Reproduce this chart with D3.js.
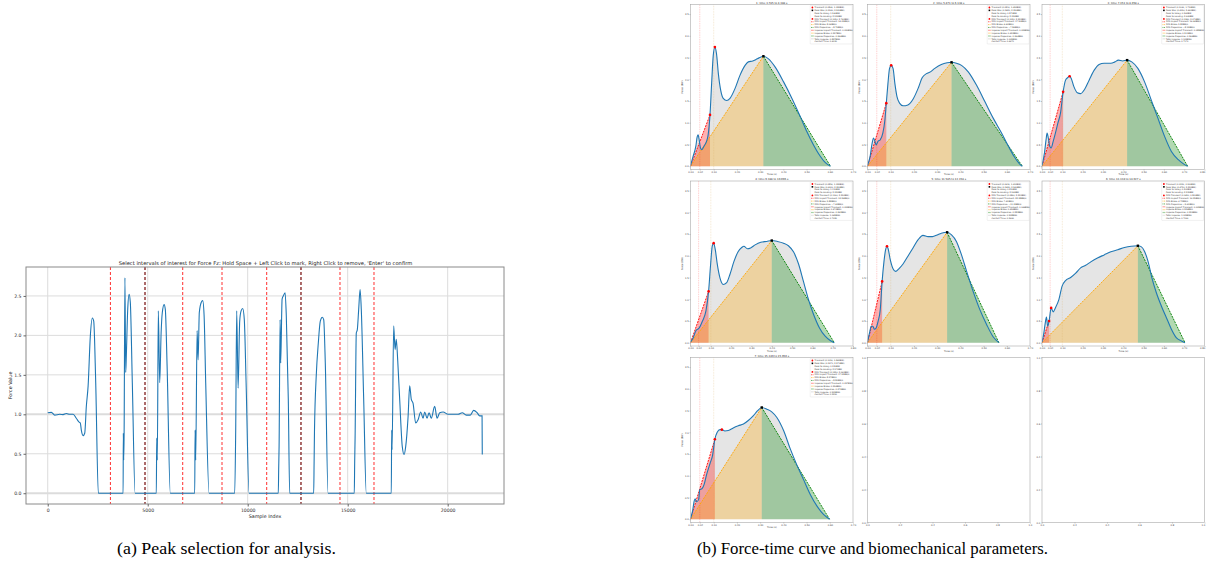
<!DOCTYPE html>
<html>
<head>
<meta charset="utf-8">
<script src="https://d3js.org/d3.v7.min.js"></script>
<style>
  body { margin: 0; background: #fff; }
  svg { display: block; font-family: "DejaVu Sans", sans-serif; }
</style>
</head>
<body>
<svg id="fig" width="1206" height="575"></svg>
<script>
// ---------- (a) raw vertical force signal: [sample index, force] ----------
const forceSignal = [
  [0,1.02],[180,1.025],[350,0.99],[600,1.0],[770,0.996],[930,1.01],[1100,1.0],[1270,1.0],[1430,0.95],
  [1570,0.9],[1630,0.89],[1680,0.8],[1770,0.73],[1850,0.76],[1930,1.1],[2020,1.36],[2130,1.99],
  [2230,2.22],[2300,2.18],[2400,1.4],[2530,0],
  [3770,0],[3780,0.76],[3800,0.42],[3820,0.76],[3860,2.73],[3900,1.53],[3930,1.74],[4000,2.33],
  [4070,2.52],[4130,2.42],[4230,1.4],[4370,0],
  [5430,0],[5450,0.7],[5480,0.42],[5530,2.31],[5600,1.4],[5670,2.03],[5730,2.29],[5820,2.39],
  [5880,2.33],[5970,1.61],[6130,0],
  [7350,0],[7370,0.8],[7400,0.42],[7470,2.06],[7520,1.69],[7580,2.29],[7680,2.42],[7750,2.44],
  [7820,2.25],[7900,1.4],[8070,0],
  [9350,0],[9400,0.8],[9450,2.31],[9520,1.33],[9600,2.18],[9670,2.31],[9750,2.34],[9830,2.2],
  [9920,1.4],[10070,0],
  [11530,0],[11550,0.32],[11570,0.6],[11620,2.2],[11650,1.65],[11720,2.46],[11780,2.5],[11870,2.54],
  [11930,2.25],[12030,1.19],[12100,0],
  [13300,0],[13320,0.38],[13340,0.8],[13430,1.5],[13530,1.9],[13630,2.18],[13730,2.23],[13800,2.2],
  [13880,1.65],[14020,0],
  [15330,0],[15350,0.4],[15370,0.7],[15430,2.03],[15480,2.07],[15550,2.33],[15620,2.58],[15680,2.33],
  [15800,1.19],[15930,0],
  [17180,0],[17200,0.8],[17220,0.55],[17300,2.12],[17370,1.82],[17430,1.95],[17500,1.69],[17600,1.19],
  [17730,0.59],[17820,0.49],[17900,0.59],[18020,0.97],[18100,1.36],[18180,1.19],[18270,1.14],
  [18400,0.89],[18520,0.93],[18650,1.03],[18770,0.95],[18850,1.03],[18970,0.95],[19070,1.02],
  [19180,0.95],[19350,1.1],[19470,0.95],[19600,1.02],[19770,1.03],[20020,1.0],[20270,1.0],
  [20520,1.0],[20730,1.02],[20930,0.99],[21130,0.99],[21300,1.05],[21470,1.02],[21600,0.98],
  [21720,0.98],[21730,0.49]
];
const markIdx = [3135, 4865, 6750, 8715, 10950, 12665, 14615, 16315];
const markIsEnd = [false, true, false, false, false, true, false, false];
const xTicksA = [0, 5000, 10000, 15000, 20000];
const yTicksA = [0, 0.5, 1.0, 1.5, 2.0, 2.5];

// ---------- (b) force-time curves for each selected peak: [time s, force BW] ----------
const curve1 = [[0,0.015],[0.0115,0.23],[0.023,0.46],[0.029,0.68],[0.033,0.72],[0.037,0.62],[0.043,0.42],
  [0.049,0.38],[0.058,0.46],[0.069,0.57],[0.076,0.72],[0.084,1.18],[0.091,1.9],[0.098,2.55],[0.105,2.74],
  [0.112,2.59],[0.12,2.13],[0.13,1.75],[0.141,1.56],[0.156,1.51],[0.17,1.56],[0.192,1.79],[0.213,2.09],
  [0.235,2.32],[0.249,2.4],[0.268,2.42],[0.288,2.47],[0.314,2.53],[0.336,2.47],[0.365,2.28],[0.401,1.94],
  [0.437,1.56],[0.473,1.14],[0.501,0.8],[0.53,0.49],[0.559,0.23],[0.581,0.08],[0.603,0]];
const curve2 = [[0,0.015],[0.0115,0.23],[0.02,0.53],[0.026,0.65],[0.032,0.57],[0.037,0.49],[0.045,0.57],
  [0.055,0.61],[0.066,0.76],[0.075,1.07],[0.081,1.45],[0.088,1.9],[0.095,2.25],[0.102,2.32],[0.11,2.25],
  [0.118,1.9],[0.127,1.6],[0.138,1.45],[0.153,1.39],[0.174,1.41],[0.196,1.54],[0.218,1.79],[0.236,2.04],
  [0.254,2.13],[0.271,2.17],[0.29,2.25],[0.318,2.34],[0.343,2.38],[0.362,2.39],[0.383,2.37],[0.405,2.32],
  [0.434,2.17],[0.47,1.86],[0.506,1.48],[0.542,1.1],[0.578,0.76],[0.607,0.46],[0.631,0.23],[0.654,0.06],
  [0.667,0]];
const curve3 = [[0,0.015],[0.012,0.3],[0.02,0.61],[0.025,0.76],[0.031,0.65],[0.038,0.46],[0.045,0.42],
  [0.055,0.57],[0.066,0.76],[0.078,0.99],[0.091,1.22],[0.104,1.71],[0.116,1.98],[0.127,2.04],[0.136,2.07],
  [0.144,2.02],[0.157,1.83],[0.174,1.69],[0.19,1.67],[0.21,1.77],[0.232,1.98],[0.257,2.21],[0.281,2.34],
  [0.306,2.37],[0.339,2.37],[0.359,2.4],[0.376,2.44],[0.397,2.42],[0.419,2.44],[0.442,2.4],[0.472,2.25],
  [0.505,1.94],[0.538,1.52],[0.571,1.1],[0.604,0.68],[0.637,0.34],[0.671,0.15],[0.695,0.06],[0.717,0]];
const curve4 = [[0,0.015],[0.013,0.11],[0.026,0.27],[0.043,0.34],[0.059,0.5],[0.076,0.73],[0.089,1.18],
  [0.099,1.8],[0.107,2.22],[0.114,2.29],[0.122,2.14],[0.132,1.8],[0.145,1.49],[0.161,1.34],[0.178,1.38],
  [0.194,1.57],[0.214,1.87],[0.235,2.1],[0.252,2.19],[0.263,2.22],[0.28,2.16],[0.296,2.18],[0.318,2.25],
  [0.346,2.31],[0.375,2.33],[0.4,2.35],[0.428,2.33],[0.458,2.29],[0.482,2.23],[0.507,2.09],[0.532,1.81],
  [0.556,1.41],[0.581,0.99],[0.606,0.65],[0.635,0.34],[0.663,0.15],[0.688,0.05],[0.708,0]];
const curve5 = [[0,0.015],[0.009,0.23],[0.016,0.38],[0.023,0.38],[0.03,0.31],[0.037,0.34],[0.046,0.5],
  [0.055,0.76],[0.063,1.41],[0.071,1.87],[0.078,2.14],[0.084,2.22],[0.089,2.16],[0.098,1.91],[0.11,1.7],
  [0.121,1.64],[0.135,1.7],[0.153,1.81],[0.174,1.99],[0.196,2.18],[0.218,2.37],[0.239,2.47],[0.261,2.44],
  [0.28,2.44],[0.3,2.48],[0.318,2.52],[0.343,2.54],[0.362,2.48],[0.383,2.33],[0.405,2.02],[0.427,1.64],
  [0.455,1.18],[0.484,0.76],[0.513,0.42],[0.542,0.13],[0.566,0]];
const curve6 = [[0,0.015],[0.008,0.19],[0.015,0.42],[0.022,0.59],[0.028,0.38],[0.035,0.5],[0.045,0.8],
  [0.055,0.71],[0.066,0.8],[0.083,0.99],[0.099,1.3],[0.116,1.43],[0.141,1.5],[0.166,1.6],[0.19,1.72],
  [0.215,1.78],[0.24,1.86],[0.273,1.95],[0.306,2.02],[0.339,2.09],[0.373,2.14],[0.406,2.19],[0.439,2.22],
  [0.472,2.23],[0.488,2.21],[0.505,2.1],[0.522,1.87],[0.541,1.49],[0.563,1.15],[0.588,0.84],[0.613,0.57],
  [0.637,0.31],[0.662,0.11],[0.687,0.04],[0.704,0]];
const curve7 = [[0,0.015],[0.009,0.19],[0.016,0.42],[0.02,0.47],[0.026,0.4],[0.035,0.45],[0.04,0.68],
  [0.049,0.7],[0.058,0.79],[0.069,1.02],[0.084,1.28],[0.095,1.47],[0.105,1.84],[0.115,2.0],[0.127,2.06],
  [0.135,2.06],[0.148,2.03],[0.163,2.04],[0.184,2.1],[0.206,2.15],[0.228,2.19],[0.249,2.27],[0.271,2.38],
  [0.288,2.49],[0.307,2.57],[0.329,2.53],[0.35,2.47],[0.372,2.34],[0.401,2.04],[0.429,1.63],[0.458,1.25],
  [0.487,0.91],[0.516,0.57],[0.545,0.3],[0.573,0.11],[0.599,0]];

const panelTitles = ["1: time 3.785 to 4.388 s", "2: time 5.471 to 6.138 s", "3: time 7.351 to 8.058 s",
  "4: time 9.388 to 10.096 s", "5: time 11.585 to 12.158 s", "6: time 13.334 to 14.027 s",
  "7: time 15.349 to 15.950 s"];
const panelXMax = [0.7, 0.7, 0.8, 0.8, 0.7, 0.8, 0.7];
const impactT = [0.084, 0.081, 0.104, 0.089, 0.063, 0.035, 0.105];
const impactF = [1.18, 1.45, 1.71, 1.18, 1.41, 0.50, 1.84];
const spikeT = [0.105, 0.102, 0.136, 0.114, 0.084, 0.045, 0.135];
const spikeF = [2.74, 2.32, 2.07, 2.29, 2.22, 0.80, 2.06];
const peakT = [0.314, 0.362, 0.419, 0.400, 0.343, 0.472, 0.307];
const peakF = [2.53, 2.39, 2.44, 2.35, 2.54, 2.23, 2.57];
const contactT = [0.603, 0.667, 0.717, 0.708, 0.566, 0.704, 0.599];
const guideT = [0.04, 0.10];
const yTicksB = [0, 0.5, 1.0, 1.5, 2.0, 2.5, 3.0, 3.5];
const emptyTicks = [0, 0.2, 0.4, 0.6, 0.8, 1.0];

const curves = [curve1, curve2, curve3, curve4, curve5, curve6, curve7];
const svg = d3.select("#fig");

function padExtent(vals) {
  const e = d3.extent(vals), p = (e[1] - e[0]) * 0.05;
  return [e[0] - p, e[1] + p];
}

// ================= (a) =================
const A = { x: 26, y: 267, w: 478, h: 237 };
const xA = d3.scaleLinear().domain(padExtent(forceSignal.map(d => d[0]))).range([A.x, A.x + A.w]);
const yA = d3.scaleLinear().domain(padExtent(forceSignal.map(d => d[1]))).range([A.y + A.h, A.y]);

const gA = svg.append("g");
gA.selectAll(".gx").data(xTicksA).enter().append("line")
  .attr("x1", d => xA(d)).attr("x2", d => xA(d)).attr("y1", A.y).attr("y2", A.y + A.h)
  .attr("stroke", "#dcdcdc").attr("stroke-width", 1);
gA.selectAll(".gy").data(yTicksA).enter().append("line")
  .attr("x1", A.x).attr("x2", A.x + A.w).attr("y1", d => yA(d)).attr("y2", d => yA(d))
  .attr("stroke", "#dcdcdc").attr("stroke-width", d => (d === 0 || d === 1) ? 2 : 1);

gA.selectAll(".mk").data(markIdx).enter().append("line")
  .attr("x1", d => xA(d)).attr("x2", d => xA(d)).attr("y1", A.y).attr("y2", A.y + A.h)
  .attr("stroke", "#ff3030").attr("stroke-width", 1).attr("stroke-dasharray", "3,2");
gA.selectAll(".mk2").data(markIdx.filter((d, i) => markIsEnd[i])).enter().append("line")
  .attr("x1", d => xA(d)).attr("x2", d => xA(d)).attr("y1", A.y).attr("y2", A.y + A.h)
  .attr("stroke", "#222").attr("stroke-width", 1).attr("stroke-dasharray", "3,2").attr("opacity", 0.75);

gA.append("path").datum(forceSignal)
  .attr("fill", "none").attr("stroke", "#1f77b4").attr("stroke-width", 1.1)
  .attr("d", d3.line().x(d => xA(d[0])).y(d => yA(d[1])).curve(d3.curveMonotoneX));

gA.append("rect").attr("x", A.x).attr("y", A.y).attr("width", A.w).attr("height", A.h)
  .attr("fill", "none").attr("stroke", "#8a8a8a").attr("stroke-width", 1);

const axA = gA.append("g").attr("transform", `translate(0,${A.y + A.h})`)
  .call(d3.axisBottom(xA).tickValues(xTicksA).tickSize(2.5).tickPadding(2).tickFormat(d3.format("d")));
const ayA = gA.append("g").attr("transform", `translate(${A.x},0)`)
  .call(d3.axisLeft(yA).tickValues(yTicksA).tickSize(2.5).tickPadding(2).tickFormat(d3.format(".1f")));
[axA, ayA].forEach(a => {
  a.select(".domain").remove();
  a.selectAll("line").attr("stroke", "#666");
  a.selectAll("text").attr("font-size", 4.6).attr("fill", "#333").attr("font-family", "DejaVu Sans");
});
gA.append("text").attr("x", A.x + A.w / 2 + 0.5).attr("y", A.y - 2.5).attr("text-anchor", "middle")
  .attr("font-size", 5.2).attr("fill", "#222")
  .text("Select intervals of interest for Force Fz: Hold Space + Left Click to mark, Right Click to remove, 'Enter' to confirm");
gA.append("text").attr("x", A.x + A.w / 2).attr("y", A.y + A.h + 13.5).attr("text-anchor", "middle")
  .attr("font-size", 4.8).attr("fill", "#222").text("Sample Index");
gA.append("text").attr("transform", `translate(${A.x - 14},${A.y + A.h / 2}) rotate(-90)`)
  .attr("text-anchor", "middle").attr("font-size", 4.8).attr("fill", "#222").text("Force Value");

// ================= (b) =================
const colX = [690.5, 867.5, 1042], colW = 162.5;
const rowY = [4.5, 181, 357.5], rowH = 165;
const fs = 2.4;

function styleAxis(a) {
  a.select(".domain").remove();
  a.selectAll("line").attr("stroke", "#777").attr("stroke-width", 0.4);
  a.selectAll("text").attr("font-size", fs).attr("fill", "#444").attr("font-family", "DejaVu Sans");
}
// keep the right-most tick label of the last column inside the page
function pullLastLabel(a, col) {
  if (col !== 2) return;
  a.selectAll(".tick:last-of-type text").attr("text-anchor", "end").attr("dx", "0.3");
}

function impulse(pts) {
  let s = 0;
  for (let k = 1; k < pts.length; k++) s += (pts[k][0] - pts[k - 1][0]) * (pts[k][1] + pts[k - 1][1]) / 2;
  return s;
}

curves.forEach((pts, i) => {
  const col = i % 3;
  const gx = colX[col], gy = rowY[Math.floor(i / 3)];
  const g = svg.append("g").attr("transform", `translate(${gx},${gy})`);
  const x = d3.scaleLinear().domain([0, panelXMax[i]]).range([0, colW]);
  const y = d3.scaleLinear().domain([-0.076, 3.72]).range([rowH, 0]);
  const clipId = "clip" + i;
  g.append("clipPath").attr("id", clipId).append("rect").attr("width", colW).attr("height", rowH);
  const body = g.append("g").attr("clip-path", `url(#${clipId})`);

  // total impulse area
  body.append("path").datum(pts).attr("fill", "lightgray").attr("opacity", 0.6)
    .attr("d", d3.area().x(d => x(d[0])).y0(y(0)).y1(d => y(d[1])).curve(d3.curveMonotoneX));
  const poly = (arr, c) => body.append("path").datum(arr).attr("fill", c).attr("opacity", 0.3)
    .attr("d", d3.line().x(d => x(d[0])).y(d => y(d[1])));
  poly([[0, 0], [impactT[i], impactF[i]], [impactT[i], 0]], "red");
  poly([[0, 0], [peakT[i], peakF[i]], [peakT[i], 0]], "orange");
  poly([[peakT[i], 0], [peakT[i], peakF[i]], [contactT[i], 0]], "green");

  // guide lines
  body.append("line").attr("x1", x(guideT[0])).attr("x2", x(guideT[0])).attr("y1", 0).attr("y2", rowH)
    .attr("stroke", "red").attr("stroke-opacity", 0.3).attr("stroke-width", 0.6).attr("stroke-dasharray", "1.5,0.8");
  body.append("line").attr("x1", x(guideT[1])).attr("x2", x(guideT[1])).attr("y1", 0).attr("y2", rowH)
    .attr("stroke", "#d9b060").attr("stroke-opacity", 0.5).attr("stroke-width", 0.6).attr("stroke-dasharray", "0.8,0.8");

  const seg = (a, b, c) => body.append("line")
    .attr("x1", x(a[0])).attr("y1", y(a[1])).attr("x2", x(b[0])).attr("y2", y(b[1]))
    .attr("stroke", c).attr("stroke-width", 0.9).attr("stroke-dasharray", "2,1");
  seg([0, 0], [impactT[i], impactF[i]], "red");
  seg([0, 0], [peakT[i], peakF[i]], "orange");
  seg([peakT[i], peakF[i]], [contactT[i], 0], "green");

  body.append("path").datum(pts).attr("fill", "none").attr("stroke", "#1f77b4").attr("stroke-width", 1.1)
    .attr("d", d3.line().x(d => x(d[0])).y(d => y(d[1])).curve(d3.curveMonotoneX));

  body.append("circle").attr("cx", x(impactT[i])).attr("cy", y(impactF[i])).attr("r", 1.3).attr("fill", "red");
  body.append("circle").attr("cx", x(spikeT[i])).attr("cy", y(spikeF[i])).attr("r", 1.3).attr("fill", "red");
  body.append("rect").attr("x", x(peakT[i]) - 1.2).attr("y", y(peakF[i]) - 1.2)
    .attr("width", 2.4).attr("height", 2.4).attr("fill", "black");

  g.append("rect").attr("width", colW).attr("height", rowH)
    .attr("fill", "none").attr("stroke", "#a8a8a8").attr("stroke-width", 0.6);

  const xt = [0, guideT[0], guideT[1]].concat(d3.range(0.2, panelXMax[i] + 0.001, 0.1));
  const ax = g.append("g").attr("transform", `translate(0,${rowH})`)
    .call(d3.axisBottom(x).tickValues(xt).tickSize(1).tickPadding(0.6).tickFormat(d3.format(".2f")));
  const ay = g.append("g")
    .call(d3.axisLeft(y).tickValues(yTicksB).tickSize(1).tickPadding(0.8).tickFormat(d3.format(".1f")));
  styleAxis(ax); styleAxis(ay); pullLastLabel(ax, col);

  g.append("text").attr("x", colW / 2).attr("y", -1).attr("text-anchor", "middle")
    .attr("font-size", 2.6).attr("fill", "#222").text(panelTitles[i]);
  g.append("text").attr("x", colW / 2).attr("y", rowH + 5.6).attr("text-anchor", "middle")
    .attr("font-size", fs).attr("fill", "#333").text("Time (s)");
  g.append("text").attr("transform", `translate(-8,${rowH / 2}) rotate(-90)`).attr("text-anchor", "middle")
    .attr("font-size", fs).attr("fill", "#333").text("Force (BW)");

  // legend
  const f3 = d3.format(".3f"), f2 = d3.format(".2f");
  const rfdImp = impactF[i] / impactT[i], rfdBrake = peakF[i] / peakT[i];
  const rfdProp = -peakF[i] / (contactT[i] - peakT[i]);
  const impImp = impactF[i] * impactT[i] / 2, impBrake = peakF[i] * peakT[i] / 2;
  const impProp = peakF[i] * (contactT[i] - peakT[i]) / 2;
  const items = [
    ["m", "red", `Transient (${f3(impactT[i])}s, ${f3(impactF[i])}BW)`],
    ["s", "black", `Peak Max (${f3(peakT[i])}s, ${f3(peakF[i])}BW)`],
    ["", "", `Peak to Valley: ${f3(spikeF[i] - impactF[i])}BW`],
    ["", "", `Peak to Landing: ${f3(peakF[i])}BW`],
    ["m", "red", `RFD Transient (${f3(spikeT[i])}s, ${f3(spikeF[i])}BW)`],
    ["l", "red", `RFD Impact Transient: ${f2(rfdImp)}BW/s`],
    ["l", "orange", `RFD Brake: ${f2(rfdBrake)}BW/s`],
    ["l", "green", `RFD Propulsive: ${f2(rfdProp)}BW/s`],
    ["p", "red", `Impulse Impact Transient: ${f3(impImp)}BWs`],
    ["p", "orange", `Impulse Brake: ${f3(impBrake)}BWs`],
    ["p", "green", `Impulse Propulsive: ${f3(impProp)}BWs`],
    ["p", "lightgray", `Total Impulse: ${f3(impulse(pts))}BWs`],
    ["", "", `Contact Time: ${f3(contactT[i])}s`]
  ];
  const lw = 42, lh = 2.85, lx = colW - lw - 0.8, ly = 0.8;
  const lg = g.append("g").attr("transform", `translate(${lx},${ly})`);
  lg.append("rect").attr("width", lw).attr("height", items.length * lh + 1.6)
    .attr("fill", "white").attr("fill-opacity", 0.85).attr("stroke", "#d0d0d0").attr("stroke-width", 0.3).attr("rx", 0.5);
  items.forEach((it, k) => {
    const cy = 1.6 + k * lh + 0.6;
    if (it[0] === "m") lg.append("circle").attr("cx", 2.2).attr("cy", cy).attr("r", 0.9).attr("fill", it[1]);
    if (it[0] === "s") lg.append("rect").attr("x", 1.4).attr("y", cy - 0.8).attr("width", 1.6).attr("height", 1.6).attr("fill", it[1]);
    if (it[0] === "l") lg.append("line").attr("x1", 0.8).attr("x2", 3.6).attr("y1", cy).attr("y2", cy)
      .attr("stroke", it[1]).attr("stroke-width", 0.6).attr("stroke-dasharray", "1,0.5");
    if (it[0] === "p") lg.append("rect").attr("x", 0.8).attr("y", cy - 0.6).attr("width", 2.8).attr("height", 1.2)
      .attr("fill", it[1]).attr("opacity", it[1] === "lightgray" ? 0.6 : 0.35);
    lg.append("text").attr("x", 4.4).attr("y", cy + 0.75).attr("font-size", 2.1).attr("fill", "#333").text(it[2]);
  });
});

// empty axes of the 3x3 grid
[7, 8].forEach(i => {
  const col = i % 3;
  const g = svg.append("g").attr("transform", `translate(${colX[col]},${rowY[2]})`);
  const x = d3.scaleLinear().domain([0, 1]).range([0, colW]);
  const y = d3.scaleLinear().domain([0, 1]).range([rowH, 0]);
  g.append("rect").attr("width", colW).attr("height", rowH)
    .attr("fill", "none").attr("stroke", "#a8a8a8").attr("stroke-width", 0.6);
  const ax = g.append("g").attr("transform", `translate(0,${rowH})`)
    .call(d3.axisBottom(x).tickValues(emptyTicks).tickSize(1).tickPadding(0.6).tickFormat(d3.format(".1f")));
  const ay = g.append("g")
    .call(d3.axisLeft(y).tickValues(emptyTicks).tickSize(1).tickPadding(0.8).tickFormat(d3.format(".1f")));
  styleAxis(ax); styleAxis(ay); pullLastLabel(ax, col);
});

// captions
svg.append("text").attr("x", 226.5).attr("y", 554).attr("text-anchor", "middle")
  .attr("font-family", "Liberation Serif, serif").attr("font-size", 17.5).attr("fill", "#000")
  .attr("textLength", 219).attr("lengthAdjust", "spacingAndGlyphs")
  .text("(a) Peak selection for analysis.");
svg.append("text").attr("x", 872.5).attr("y", 554).attr("text-anchor", "middle")
  .attr("font-family", "Liberation Serif, serif").attr("font-size", 17.5).attr("fill", "#000")
  .attr("textLength", 351).attr("lengthAdjust", "spacingAndGlyphs")
  .text("(b) Force-time curve and biomechanical parameters.");
</script>
</body>
</html>
